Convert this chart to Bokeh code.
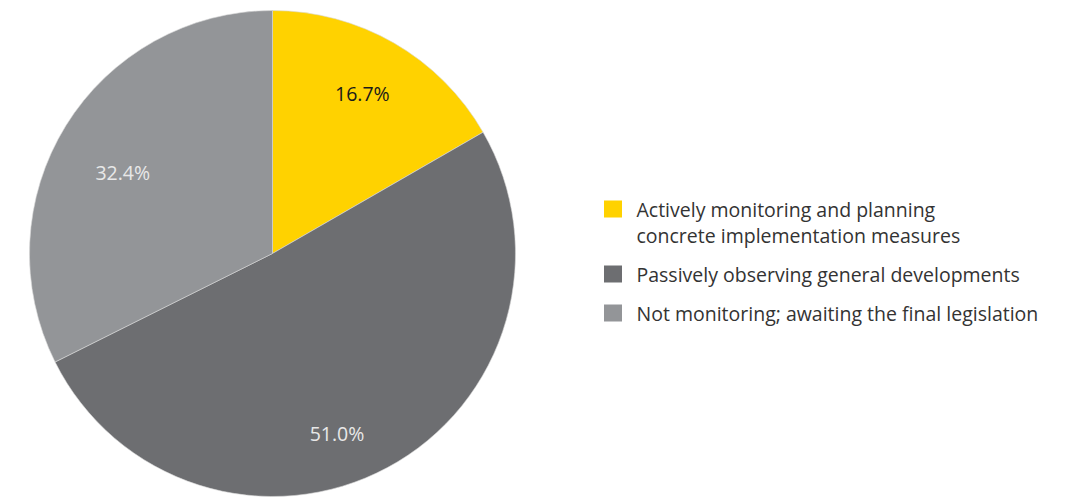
import numpy as np
from bokeh.plotting import figure
from bokeh.models import Range1d, ColumnDataSource
from bokeh.core.properties import value
from bokeh.embed import file_html
from bokeh.resources import INLINE

categories = ["Actively monitoring and planning\nconcrete implementation measures",
              "Passively observing general developments",
              "Not monitoring; awaiting the final legislation"]
shares = [16.7, 51.0, 32.4]
labels = ["16.7%", "51.0%", "32.4%"]
colors = ["#FFD200", "#6D6E71", "#939598"]
label_colors = ["#1A1A1A", "#E8E8E8", "#E8E8E8"]

W, H = 1068, 498
cx, cy, R = 272, 498 - 253, 243
FONT = "Open Sans"

p = figure(width=W, height=H, output_backend="svg", toolbar_location=None,
           x_range=Range1d(0, W), y_range=Range1d(0, H), min_border=0,
           outline_line_color=None)
p.axis.visible = False
p.grid.visible = False

frac = np.array(shares) / np.sum(shares)
ends = np.cumsum(frac)
starts = ends - frac
start_ang = np.pi / 2 - 2 * np.pi * starts
end_ang = np.pi / 2 - 2 * np.pi * ends

src = ColumnDataSource(dict(start=start_ang, end=end_ang, color=colors))
p.wedge(x=cx, y=cy, radius=R, start_angle="start", end_angle="end",
        direction="clock", fill_color="color", line_color="#D8D8D8",
        line_width=0.6, source=src)

# label placement (style): radius fraction and angular nudge (degrees)
lr = np.array([0.755, 0.786, 0.70]) * R
nudge = np.radians([0.7, -8.5, 3.4])
mid = (start_ang + end_ang) / 2 + nudge
lx = cx + lr * np.cos(mid)
ly = cy + lr * np.sin(mid)
p.text(x=lx, y=ly, text=labels, text_color=label_colors,
       text_font=value(FONT), text_font_size="19.5px",
       text_align="center", text_baseline="middle")

# legend
sq_x, txt_x = 612.5, 636
y0 = 498 - 208.5
line_gap, item_gap = 26, 39
ys = []
y = y0
tx, ty, tt = [], [], []
for cat in categories:
    ys.append(y)
    lines = cat.split("\n")
    for j, ln in enumerate(lines):
        tx.append(txt_x)
        ty.append(y - j * line_gap)
        tt.append(ln)
    y -= item_gap + (len(lines) - 1) * line_gap
p.rect(x=sq_x, y=ys, width=18, height=17, fill_color=colors, line_color=None)
p.text(x=tx, y=ty, text=tt, text_color="#333333", text_font=value(FONT),
       text_font_size="19.5px", text_align="left", text_baseline="middle")

open("out.html", "w").write(file_html(p, INLINE))
